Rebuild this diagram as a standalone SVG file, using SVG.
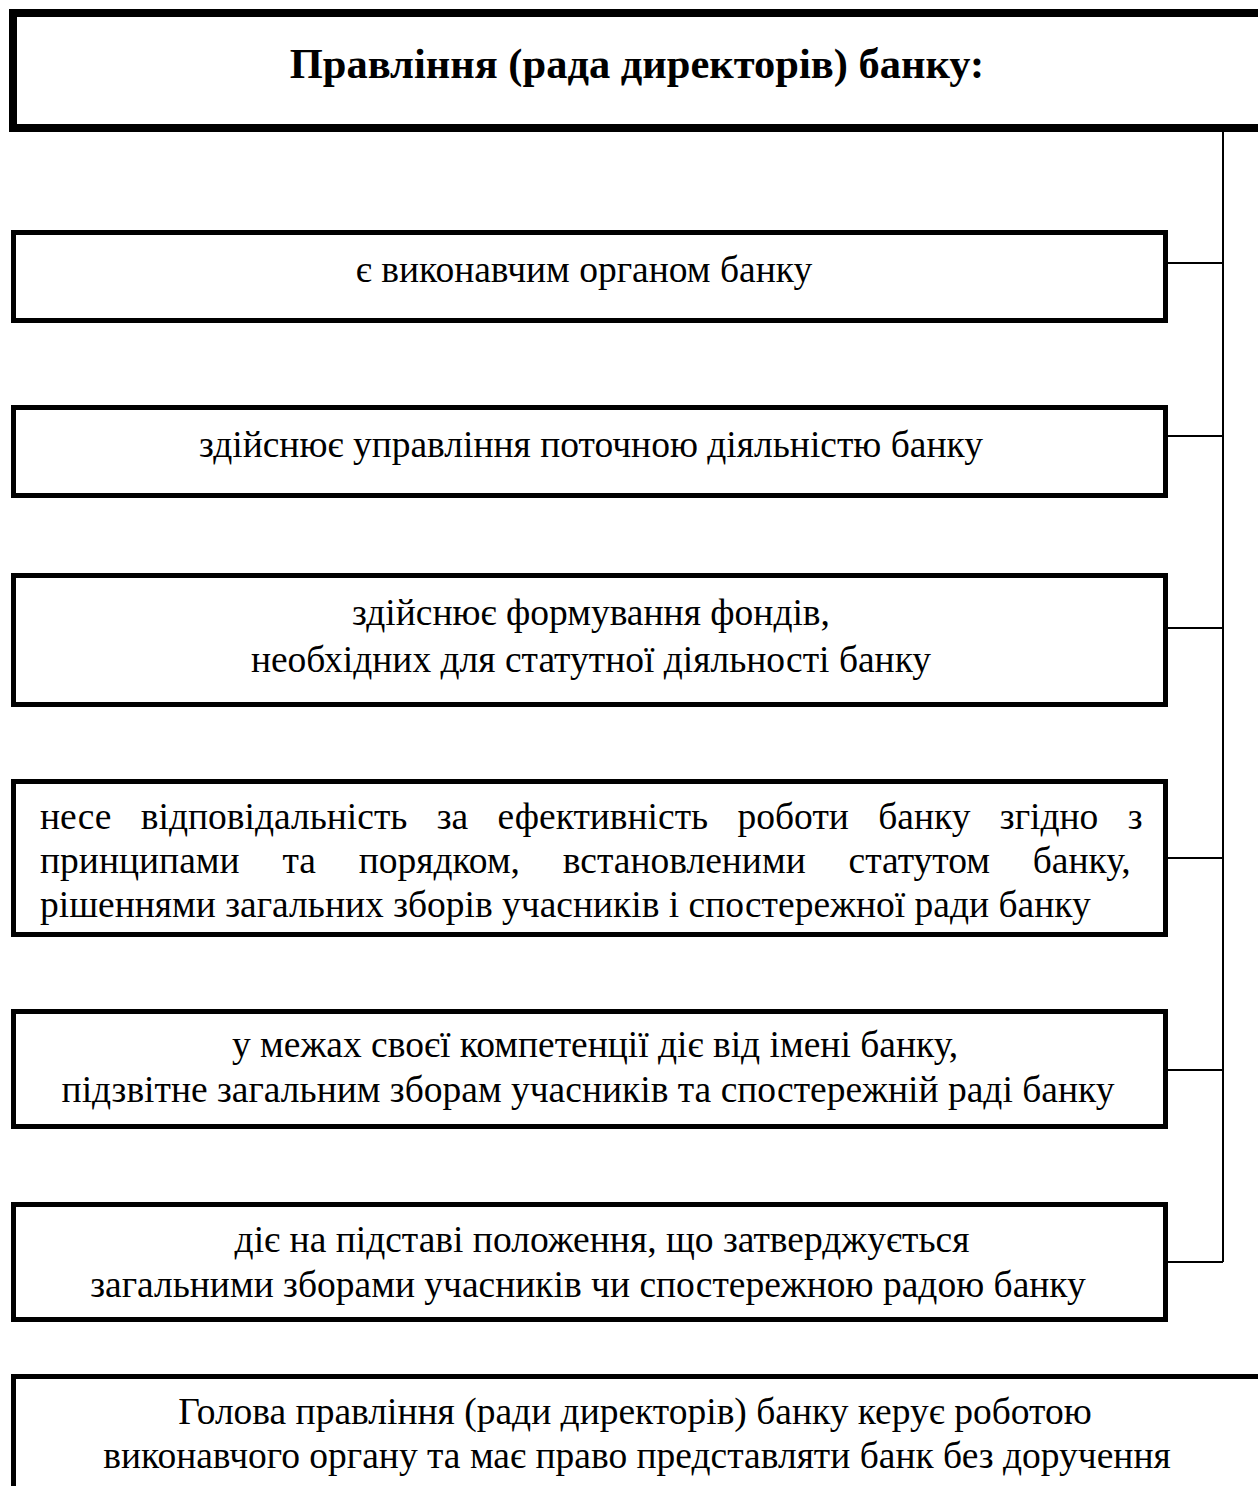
<svg xmlns="http://www.w3.org/2000/svg" width="1258" height="1486" viewBox="0 0 1258 1486">
<style>
.box{fill:#fff;stroke:#000;stroke-width:5}
.top{fill:#fff;stroke:#000;stroke-width:8}
.t{font-family:"Liberation Serif","Times New Roman",serif;font-size:37.5px;fill:#000;text-anchor:middle}
.j{font-family:"Liberation Serif","Times New Roman",serif;font-size:37.5px;fill:#000}
.b{font-weight:bold;font-size:42.5px}
.c{fill:none;stroke:#000;stroke-width:2}
</style>
<rect width="1258" height="1486" fill="#fff"/>
<g id="connectors">
<path class="c" d="M1223,132 V1262"/>
<path class="c" d="M1168,263 H1223"/>
<path class="c" d="M1168,436 H1223"/>
<path class="c" d="M1168,628 H1223"/>
<path class="c" d="M1168,858 H1223"/>
<path class="c" d="M1168,1070 H1223"/>
<path class="c" d="M1168,1262 H1223"/>
</g>
<g id="board">
<rect class="top" x="13" y="13" width="1260" height="115"/>
<text class="t b" x="637" y="78">Правління (рада директорів) банку:</text>
</g>
<g id="n1">
<rect class="box" x="13.5" y="232.5" width="1152" height="88"/>
<text class="t" x="584" y="282">є виконавчим органом банку</text>
</g>
<g id="n2">
<rect class="box" x="13.5" y="407.5" width="1152" height="88"/>
<text class="t" x="591" y="457">здійснює управління поточною діяльністю банку</text>
</g>
<g id="n3">
<rect class="box" x="13.5" y="575.5" width="1152" height="129"/>
<text class="t" x="591" y="625">здійснює формування фондів,</text>
<text class="t" x="591" y="672">необхідних для статутної діяльності банку</text>
</g>
<g id="n4">
<rect class="box" x="13.5" y="781.5" width="1152" height="153"/>
<text class="j" x="40" y="829" word-spacing="20">несе відповідальність за ефективність роботи банку згідно з</text>
<text class="j" x="40" y="873" word-spacing="33.4">принципами та порядком, встановленими статутом банку,</text>
<text class="j" x="40" y="917">рішеннями загальних зборів учасників і спостережної ради банку</text>
</g>
<g id="n5">
<rect class="box" x="13.5" y="1011.5" width="1152" height="115"/>
<text class="t" x="595" y="1057">у межах своєї компетенції діє від імені банку,</text>
<text class="t" x="588" y="1102">підзвітне загальним зборам учасників та спостережній раді банку</text>
</g>
<g id="n6">
<rect class="box" x="13.5" y="1204.5" width="1152" height="115"/>
<text class="t" x="602" y="1252">діє на підставі положення, що затверджується</text>
<text class="t" x="588" y="1297">загальними зборами учасників чи спостережною радою банку</text>
</g>
<g id="n7">
<rect class="box" x="13.5" y="1376.5" width="1260" height="130"/>
<text class="t" x="635" y="1424">Голова правління (ради директорів) банку керує роботою</text>
<text class="t" x="637" y="1468">виконавчого органу та має право представляти банк без доручення</text>
</g>
</svg>
